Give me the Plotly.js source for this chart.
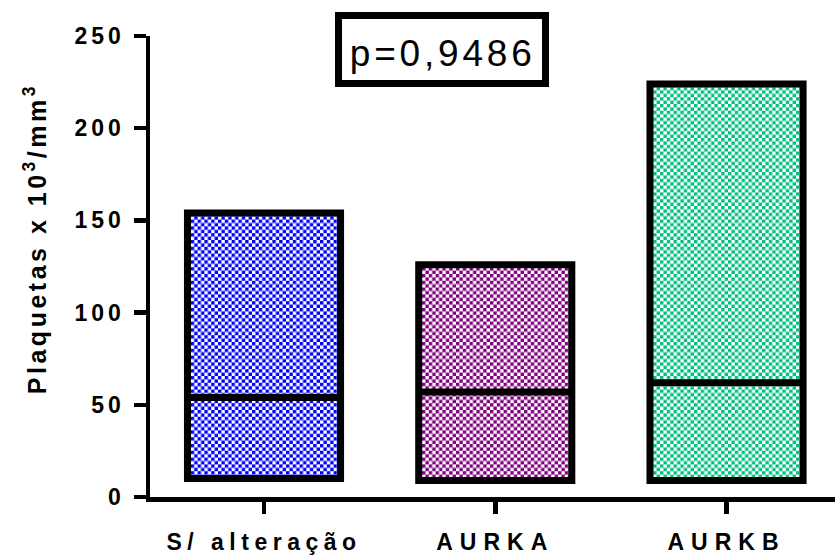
<!DOCTYPE html>
<html>
<head>
<meta charset="utf-8">
<script src="https://cdn.plot.ly/plotly-3.0.1.min.js"></script>
<style>
  html, body { margin: 0; padding: 0; background: #fff; }
  #chart .ytick text { letter-spacing: 4px; }
  #chart .xtick text { letter-spacing: 7px; }
  #chart .annotation[data-index="0"] text { letter-spacing: 3.5px; }
  #chart .annotation[data-index="1"] text { letter-spacing: 3.8px; }
</style>
</head>
<body>
<div id="chart" style="width:835px;height:558px;"></div>
<script>
// Platelet counts per group: min, median and max (x 10^3/mm^3)
const categories = ['S/ alteração', 'AURKA', 'AURKB'];
const minValues = [10, 9, 9];
const medianValues = [54, 57, 62];
const maxValues = [154, 126, 224];
const barColors = ['#0000FF', '#800080', '#00C07F'];
const yTickValues = [0, 50, 100, 150, 200, 250];
const yTitle = 'Plaquetas x 10<sup>3</sup>/mm<sup>3</sup>';
const pValueLabel = 'p=0,9486';

const FONT = 'Liberation Sans, Arial, Helvetica, sans-serif';

// Floating bars (min to max) with a line at the median
const traces = categories.map((cat, i) => ({
  type: 'box',
  x: [cat],
  q1: [minValues[i]],
  median: [medianValues[i]],
  q3: [maxValues[i]],
  lowerfence: [minValues[i]],
  upperfence: [maxValues[i]],
  fillcolor: barColors[i],
  line: { color: '#000000', width: 7 },
  whiskerwidth: 0,
  boxpoints: false,
  hoverinfo: 'skip',
  showlegend: false
}));

const axisCommon = {
  showline: true,
  linewidth: 4.5,
  linecolor: '#000000',
  ticks: 'outside',
  ticklen: 12,
  tickwidth: 4.5,
  tickcolor: '#000000',
  showgrid: false,
  zeroline: false,
  fixedrange: true,
  tickfont: { family: FONT, size: 23, color: '#000000', weight: 'bold' }
};

const layout = {
  width: 835,
  height: 558,
  margin: { l: 150, r: 0, t: 36, b: 61 },
  paper_bgcolor: '#ffffff',
  plot_bgcolor: '#ffffff',
  boxmode: 'overlay',
  boxgap: 0.338,
  boxgroupgap: 0,
  xaxis: Object.assign({}, axisCommon, {
    type: 'category',
    categoryorder: 'array',
    categoryarray: categories,
    range: [-0.493, 2.469],
    ticklabelstandoff: 9
  }),
  yaxis: Object.assign({}, axisCommon, {
    range: [0, 250],
    tickmode: 'array',
    tickvals: yTickValues,
    ticktext: yTickValues.map(String),
    ticklabelstandoff: 4
  }),
  shapes: [{
    type: 'rect', xref: 'paper', yref: 'paper',
    x0: 0.2752, x1: 0.5774, y0: 0.897, y1: 1.0445,
    line: { color: '#000000', width: 7 },
    fillcolor: '#ffffff',
    layer: 'above'
  }],
  annotations: [{
    text: yTitle,
    xref: 'paper', yref: 'paper',
    x: -0.1679, y: 0.562,
    xanchor: 'center', yanchor: 'middle',
    textangle: -90,
    showarrow: false,
    font: { family: FONT, size: 25, color: '#000000', weight: 'bold' }
  }, {
    text: pValueLabel,
    xref: 'paper', yref: 'paper',
    x: 0.4263, y: 0.963,
    xanchor: 'center', yanchor: 'middle',
    showarrow: false,
    font: { family: FONT, size: 37, color: '#000000' }
  }]
};

const gd = document.getElementById('chart');
Plotly.newPlot(gd, traces, layout, { staticPlot: true, displayModeBar: false }).then(() => {
  // The long lowercase category label sits a little tighter
  const firstLabel = gd.querySelector('.xtick text');
  if (firstLabel) firstLabel.style.letterSpacing = '5.5px';

  // Replace each box's solid fill with a checkerboard tile of the same colour
  const svg = gd.querySelector('svg.main-svg');
  const NS = 'http://www.w3.org/2000/svg';
  let defs = svg.querySelector('defs');
  if (!defs) { defs = document.createElementNS(NS, 'defs'); svg.insertBefore(defs, svg.firstChild); }
  const tile = 6.8, half = tile / 2;
  gd.querySelectorAll('.boxlayer .trace').forEach((tr, i) => {
    const path = tr.querySelector('path.box');
    if (!path) return;
    const color = path.style.fill || barColors[i];
    const pat = document.createElementNS(NS, 'pattern');
    pat.setAttribute('id', 'checker-' + i);
    pat.setAttribute('patternUnits', 'userSpaceOnUse');
    pat.setAttribute('width', tile);
    pat.setAttribute('height', tile);
    const cells = [[0, 0, tile, '#ffffff'], [0, 0, half, color], [half, half, half, color]];
    cells.forEach(([x, y, s, c]) => {
      const r = document.createElementNS(NS, 'rect');
      r.setAttribute('x', x); r.setAttribute('y', y);
      r.setAttribute('width', s); r.setAttribute('height', s);
      r.setAttribute('fill', c);
      pat.appendChild(r);
    });
    defs.appendChild(pat);
    path.style.fill = 'url(#checker-' + i + ')';
  });
});
</script>
</body>
</html>
